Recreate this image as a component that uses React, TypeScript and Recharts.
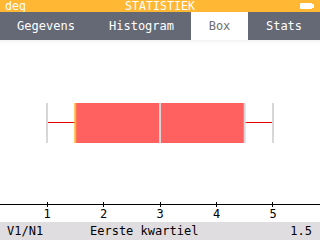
import React from 'react';
import { ComposedChart, XAxis, YAxis, ReferenceArea, ReferenceLine } from 'recharts';

// Five-number summary of list V1 with frequencies N1
const seriesNames = ['V1/N1'];
const minimum = [1];
const firstQuartile = [1.5];
const median = [3];
const thirdQuartile = [4.5];
const maximum = [5];
const tickValues = [1, 2, 3, 4, 5];
const tabs = ['Gegevens', 'Histogram', 'Box', 'Stats'];
const tabWidths = [92, 99, 57, 72];
const selectedLabel = 'Eerste kwartiel';
const selectedValue = firstQuartile[0];

const MONO = '"DejaVu Sans Mono", monospace';
const YELLOW = '#ffb734';
const TAB_GREY = '#656975';
const BOX_RED = '#ff6060';
const EDGE_GREY = '#d9d6d9';
const WHISKER_RED = '#e00000';

// vertical extent of the box in plot units
const boxBottom = 0.372;
const boxTop = 0.616;
const boxMid = 0.497;

const AxisTick = (props: any) => {
  const { x, y, payload } = props;
  return (
    <g>
      <line x1={x} x2={x} y1={y - 2} y2={y + 3} stroke="#000" strokeWidth={1} shapeRendering="crispEdges" />
      <text x={x} y={y + 14} textAnchor="middle" fontFamily={MONO} fontSize={12} fill="#000">
        {payload.value}
      </text>
    </g>
  );
};

export default function App() {
  const i = 0;
  const data = [{ x: median[i], y: boxMid }];
  return (
    <div style={{ position: 'fixed', left: 0, top: 0, width: 320, height: 240, background: '#fff', overflow: 'hidden' }}>
      {/* title bar */}
      <div style={{ position: 'absolute', left: 0, top: 0, width: 320, height: 12, background: YELLOW, color: '#fff', fontFamily: MONO, fontSize: 11.6, lineHeight: '12px' }}>
        <span style={{ position: 'absolute', left: 5, top: 0 }}>deg</span>
        <span style={{ position: 'absolute', left: 0, width: 320, top: 0, textAlign: 'center' }}>STATISTIEK</span>
        <div style={{ position: 'absolute', left: 300, top: 3, width: 12, height: 6, background: '#fff', borderRadius: 1 }} />
        <div style={{ position: 'absolute', left: 312, top: 4, width: 2, height: 4, background: '#fff' }} />
      </div>
      {/* tab bar */}
      <div style={{ position: 'absolute', left: 0, top: 12, width: 320, height: 28, background: TAB_GREY, display: 'flex' }}>
        {tabs.map((t, k) => (
          <div
            key={t}
            style={{
              width: tabWidths[k],
              height: 28,
              lineHeight: '28px',
              textAlign: 'center',
              fontFamily: MONO,
              fontSize: 12,
              background: t === 'Box' ? '#fff' : TAB_GREY,
              color: t === 'Box' ? '#6e6e6e' : '#fff',
            }}
          >
            {t}
          </div>
        ))}
      </div>
      <div style={{ position: 'absolute', left: 0, top: 40, width: 320, height: 4, background: 'linear-gradient(#f2f2f2, #fff)' }} />
      {/* box plot */}
      <div style={{ position: 'absolute', left: 0, top: 40 }}>
        <ComposedChart width={320} height={182} data={data} margin={{ top: 0, right: 0, bottom: 0, left: 0 }}>
          <XAxis
            type="number"
            dataKey="x"
            domain={[0.168, 5.832]}
            ticks={tickValues}
            allowDataOverflow
            height={18}
            tickSize={0}
            tickMargin={0}
            tickLine={false}
            axisLine={{ stroke: '#000', strokeWidth: 1, shapeRendering: 'crispEdges' }}
            tick={<AxisTick />}
            interval={0}
          />
          <YAxis type="number" dataKey="y" domain={[0, 1]} hide />
          <ReferenceArea x1={firstQuartile[i]} x2={thirdQuartile[i]} y1={boxBottom} y2={boxTop} fill={BOX_RED} fillOpacity={1} stroke="none" ifOverflow="visible" />
          <ReferenceLine segment={[{ x: minimum[i], y: boxMid }, { x: firstQuartile[i], y: boxMid }]} stroke={WHISKER_RED} strokeWidth={1} shapeRendering="crispEdges" />
          <ReferenceLine segment={[{ x: thirdQuartile[i], y: boxMid }, { x: maximum[i], y: boxMid }]} stroke={WHISKER_RED} strokeWidth={1} shapeRendering="crispEdges" />
          <ReferenceLine segment={[{ x: minimum[i], y: boxBottom }, { x: minimum[i], y: boxTop }]} stroke={EDGE_GREY} strokeWidth={2} />
          <ReferenceLine segment={[{ x: maximum[i], y: boxBottom }, { x: maximum[i], y: boxTop }]} stroke={EDGE_GREY} strokeWidth={2} />
          <ReferenceLine segment={[{ x: median[i], y: boxBottom }, { x: median[i], y: boxTop }]} stroke={EDGE_GREY} strokeWidth={2} />
          <ReferenceLine segment={[{ x: thirdQuartile[i], y: boxBottom }, { x: thirdQuartile[i], y: boxTop }]} stroke={EDGE_GREY} strokeWidth={2} />
          <ReferenceLine segment={[{ x: firstQuartile[i], y: boxBottom }, { x: firstQuartile[i], y: boxTop }]} stroke={YELLOW} strokeWidth={2} />
        </ComposedChart>
      </div>
      {/* selection banner */}
      <div style={{ position: 'absolute', left: 0, top: 222, width: 320, height: 18, background: '#e0dde0', fontFamily: MONO, fontSize: 12, lineHeight: '18px', color: '#000' }}>
        <span style={{ position: 'absolute', left: 7 }}>{seriesNames[i]}</span>
        <span style={{ position: 'absolute', left: 90 }}>{selectedLabel}</span>
        <span style={{ position: 'absolute', right: 8 }}>{selectedValue}</span>
      </div>
    </div>
  );
}
